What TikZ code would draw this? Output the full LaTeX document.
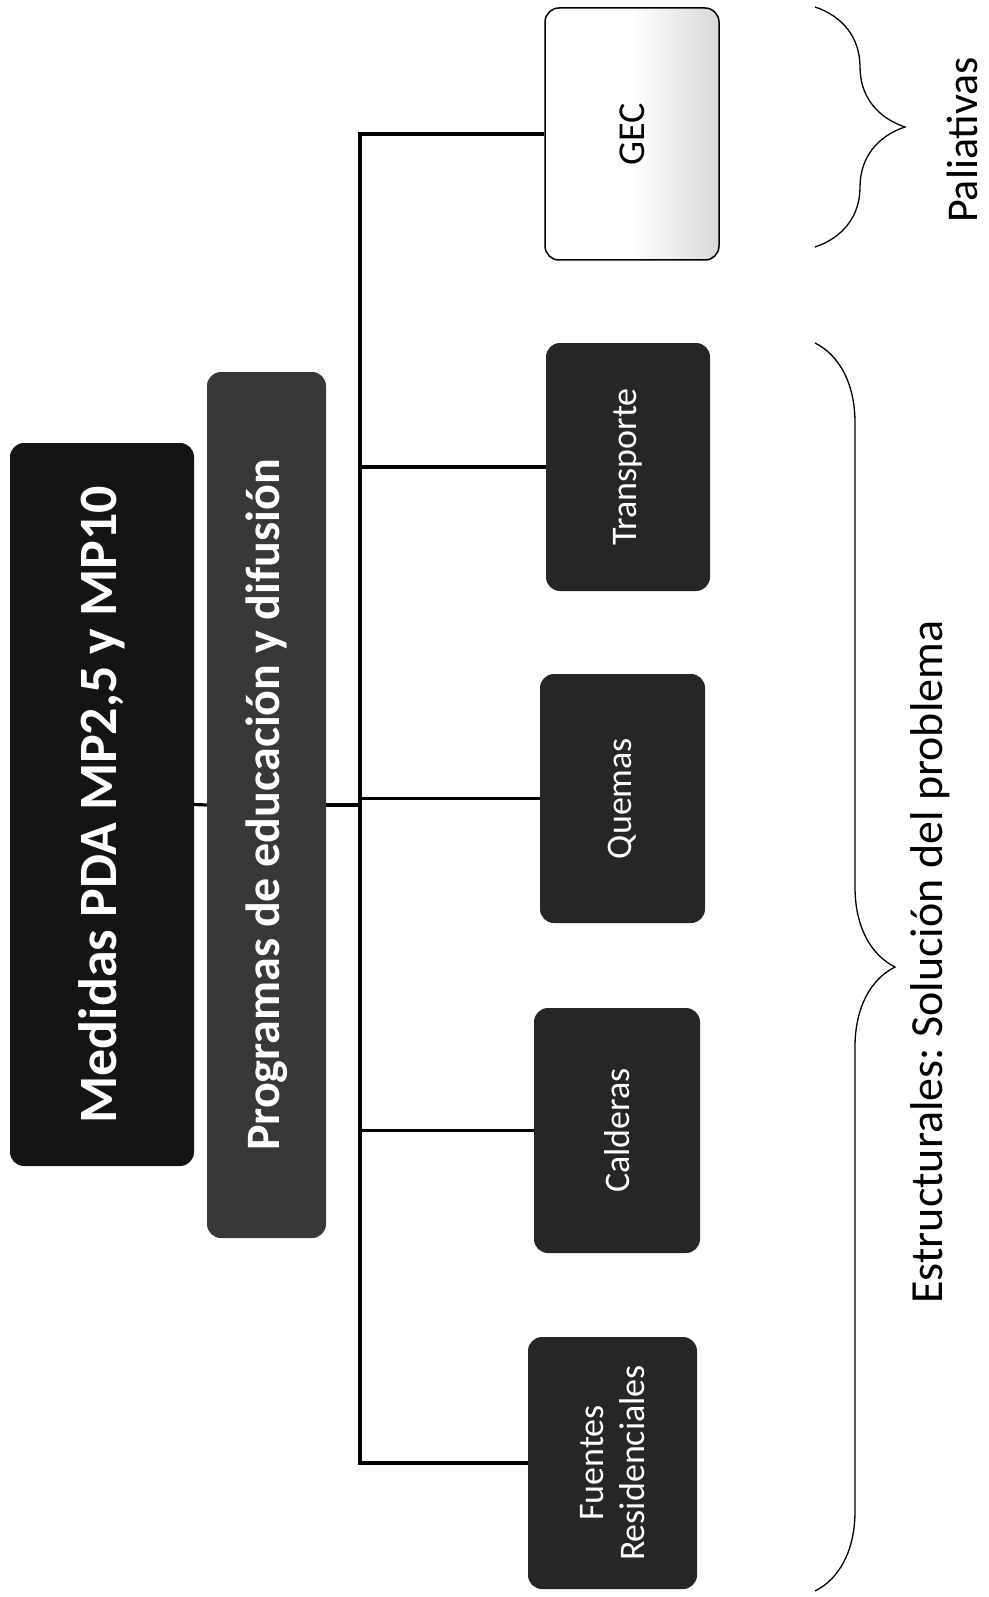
\documentclass[tikz,border=0pt]{standalone}
\usepackage{fontspec}
\setmainfont{Carlito}
\usetikzlibrary{decorations.pathreplacing}
\pgfdeclarehorizontalshading{gecshade}{100bp}{color(0bp)=(white); color(50bp)=(white); color(100bp)=(black!30)}
\frenchspacing
\begin{document}
\begin{tikzpicture}[x=1pt,y=-1pt,
  darkbox/.style={draw=none, fill=black!85, rounded corners=14pt, text=white, inner sep=0pt},
  conn/.style={line width=3.2pt, line join=miter},
  bracepath/.style={line width=1.3pt, decorate}]
\useasboundingbox (0,0) rectangle (988,1597);

% main boxes
\node[darkbox, fill=black!92, minimum width=184pt, minimum height=723pt] (med) at (102,804.5)
  {\rotatebox{90}{\fontsize{54pt}{60pt}\selectfont\bfseries Medidas PDA MP2,5 y MP10}};
\node[darkbox, fill=black!78, minimum width=119pt, minimum height=866pt] (prog) at (266.5,805)
  {\rotatebox{90}{\fontsize{48pt}{54pt}\selectfont\bfseries Programas de educación y difusión}};

% leaf boxes
\node[draw=black, line width=1.5pt, rounded corners=14pt, shading=gecshade, inner sep=0pt,
  minimum width=174pt, minimum height=252pt] (gec) at (632,134)
  {\rotatebox{90}{\fontsize{38pt}{44pt}\selectfont GEC}};
\node[darkbox, minimum width=164pt, minimum height=248pt] (tra) at (628,467)
  {\rotatebox{90}{\fontsize{36pt}{41pt}\selectfont Transporte}};
\node[darkbox, minimum width=165pt, minimum height=249pt] (que) at (622.5,798.5)
  {\rotatebox{90}{\fontsize{36pt}{41pt}\selectfont Quemas}};
\node[darkbox, minimum width=166pt, minimum height=245pt] (cal) at (617,1130.5)
  {\rotatebox{90}{\fontsize{36pt}{41pt}\selectfont Calderas}};
\node[darkbox, minimum width=169pt, minimum height=252pt] (fue) at (612.5,1463)
  {\rotatebox{90}{\parbox{210pt}{\centering\fontsize{36pt}{41pt}\selectfont Fuentes\\Residenciales}}};

% connectors
\coordinate (bus) at (360,0);
\draw[conn] (med.east) -- (prog.west);
\draw[conn] (prog.east) -- (prog.east -| bus);
\draw[conn] (gec.west) -- (gec.west -| bus) -- (fue.west -| bus) -- (fue.west);
\draw[conn] (tra.west) -- (tra.west -| bus);
\draw[conn] (que.west) -- (que.west -| bus);
\draw[conn] (cal.west) -- (cal.west -| bus);

% braces
\coordinate (pA) at (815,7);
\coordinate (pB) at (815,247);
\coordinate (eA) at (815,343);
\coordinate (eB) at (815,1591);
\draw[bracepath, decoration={brace, amplitude=90pt}] (pA) -- (pB);
\draw[bracepath, decoration={brace, amplitude=80pt}] (eA) -- (eB);

\node[inner sep=1pt] (pal) at (962,140) {\rotatebox{90}{\fontsize{44pt}{50pt}\selectfont Paliativas}};
\node[inner sep=1pt] (est) at (930,962) {\rotatebox{90}{\fontsize{46pt}{52pt}\selectfont Estructurales: Solución del problema}};
\end{tikzpicture}
\end{document}
